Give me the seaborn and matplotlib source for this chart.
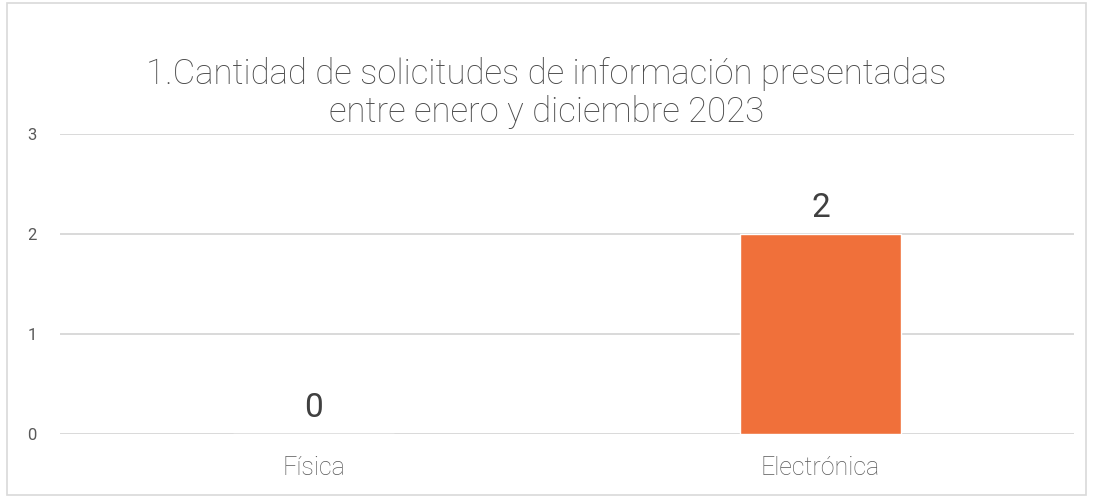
import matplotlib
matplotlib.use("Agg")
import matplotlib.pyplot as plt
import seaborn as sns
import pandas as pd
from matplotlib.patches import Rectangle

categorias = ["Física", "Electrónica"]
solicitudes = [0, 2]
titulo = "1.Cantidad de solicitudes de información presentadas\nentre enero y diciembre 2023"

df = pd.DataFrame({"tipo": categorias, "cantidad": solicitudes})

sns.set_style("white")
plt.rcParams["font.family"] = ["Roboto", "DejaVu Sans"]

fig = plt.figure(figsize=(10.93, 4.97), dpi=100)
ax = fig.add_axes([0.0549, 0.1268, 0.9277, 0.6036])

sns.barplot(data=df, x="tipo", y="cantidad", color="#F0703A", width=0.316,
            saturation=1, ax=ax, zorder=3)

ax.set_ylim(0, 3)
ax.set_xlim(-0.5, 1.5)
ax.set_yticks([0, 1, 2, 3])
ax.yaxis.grid(True, color="#D9D9D9", linewidth=1.4, zorder=0)
ax.set_axisbelow(True)
for s in ax.spines.values():
    s.set_visible(False)
ax.set_xlabel("")
ax.set_ylabel("")
ax.tick_params(axis="y", length=0, pad=17, labelsize=12, labelcolor="#595959")
ax.tick_params(axis="x", length=0, pad=16, labelsize=18, labelcolor="#595959")
for lab in ax.get_xticklabels():
    lab.set_fontweight("light")

for i, v in enumerate(solicitudes):
    ax.text(i, v + 0.1, str(v), ha="center", va="bottom", fontsize=24,
            color="#404040")

fig.text(0.5, 0.812, titulo, ha="center", va="center", fontsize=25,
         color="#4a4a4a", fontweight="light", linespacing=1.15)

fig.patches.append(Rectangle((0.006, 0.004), 0.988, 0.99, transform=fig.transFigure,
                             fill=False, edgecolor="#D9D9D9", linewidth=1.2))

fig.savefig("out.png", dpi=100)
